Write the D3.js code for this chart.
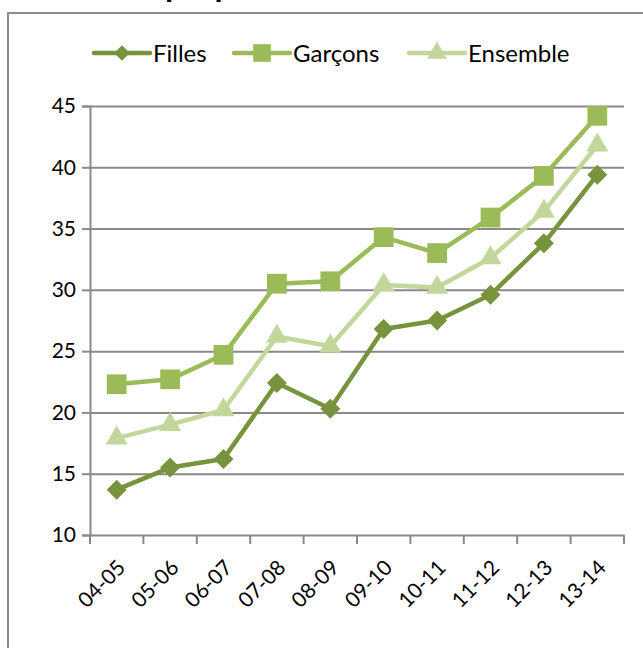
<!DOCTYPE html>
<html><head><meta charset="utf-8">
<script src="https://cdn.jsdelivr.net/npm/d3@7"></script>
<style>
html,body{margin:0;padding:0;background:#fff;overflow:hidden}
text{font-family:Lato,"Open Sans",sans-serif}
</style></head>
<body><svg id="c" width="643" height="648"></svg>
<script>
const categories = ["04-05","05-06","06-07","07-08","08-09","09-10","10-11","11-12","12-13","13-14"];
const filles   = [13.7,15.5,16.2,22.4,20.3,26.8,27.5,29.6,33.8,39.4];
const garcons  = [22.3,22.7,24.7,30.5,30.7,34.3,33.0,35.9,39.3,44.2];
const ensemble = [17.9,19.0,20.2,26.2,25.4,30.4,30.2,32.6,36.4,41.8];
const seriesNames = ["Filles","Garçons","Ensemble"];
const yTicks = [10,15,20,25,30,35,40,45];
const titleText = "Évolution de la proportion";

const colors = {Filles:"#77933C", "Garçons":"#9BBB59", Ensemble:"#C3D69B"};
const markers = {Filles:d3.symbolSquare, "Garçons":d3.symbolSquare, Ensemble:d3.symbolTriangle};
const msize = {Filles:200, "Garçons":390, Ensemble:210};
const lsize = {Filles:120, "Garçons":310, Ensemble:170};
const rot = n => n==="Filles" ? " rotate(45)" : "";
const series = [
  {name:"Filles", values:filles},
  {name:"Garçons", values:garcons},
  {name:"Ensemble", values:ensemble}
];

const svg = d3.select("#c");
const grid = "#898989";

// outer border
svg.append("rect").attr("x",8).attr("y",13).attr("width",700).attr("height",700)
  .attr("fill","none").attr("stroke","#8c8c8c").attr("stroke-width",2);

// clipped title (only descenders visible, as in the reference)
svg.append("text").attr("x",0).attr("y",-3).attr("font-size",33).attr("font-weight","bold")
  .attr("fill","#000").attr("text-anchor","middle").attr("id","ttl").text(titleText);
const t = d3.select("#ttl");
const pIdx = titleText.indexOf("p");
const bb = t.node().getBBox();
const p0 = t.node().getStartPositionOfChar(pIdx).x;
t.attr("x", 165 - p0);

const x = d3.scaleBand().domain(categories).range([90,624]).padding(0);
const y = d3.scaleLinear().domain([10,45]).range([535,106]);
const cx = c => x(c) + x.bandwidth()/2;

// y axis + gridlines
const gAxisY = svg.append("g").attr("transform","translate(90,0)")
  .call(d3.axisLeft(y).tickValues(yTicks).tickSize(8).tickFormat(d3.format("d")).tickPadding(6));
gAxisY.select(".domain").attr("stroke",grid).attr("stroke-width",2);
gAxisY.selectAll(".tick line").attr("stroke",grid).attr("stroke-width",2);
gAxisY.selectAll(".tick text").attr("font-size",21).attr("fill","#000").attr("font-family","Lato,'Open Sans',sans-serif");
gAxisY.selectAll(".tick").filter(d=>d>10).append("line")
  .attr("x1",0).attr("x2",624-90).attr("stroke",grid).attr("stroke-width",2);

// x axis
const gAxisX = svg.append("g").attr("transform","translate(0,535)")
  .call(d3.axisBottom(x).tickSize(0).tickFormat(""));
gAxisX.select(".domain").attr("stroke",grid).attr("stroke-width",2);
const edges = categories.map(c=>x(c)).concat([x(categories[categories.length-1])+x.bandwidth()]);
gAxisX.selectAll("line.edge").data(edges).enter().append("line").attr("class","edge")
  .attr("x1",d=>d).attr("x2",d=>d).attr("y1",0).attr("y2",9).attr("stroke",grid).attr("stroke-width",2);
gAxisX.selectAll("text.lbl").data(categories).enter().append("text").attr("class","lbl")
  .attr("transform",d=>`translate(${cx(d)+10},${34}) rotate(-45)`)
  .attr("text-anchor","end").attr("font-size",21).attr("fill","#000").text(d=>d);

// series lines and markers
const line = d3.line().x((d,i)=>cx(categories[i])).y(d=>y(d));
series.forEach(s=>{
  svg.append("path").datum(s.values).attr("d",line).attr("fill","none")
    .attr("stroke",colors[s.name]).attr("stroke-width",4.5).attr("stroke-linejoin","round");
});
series.forEach(s=>{
  svg.selectAll(null).data(s.values).enter().append("path")
    .attr("d",d3.symbol().type(markers[s.name]).size(msize[s.name]))
    .attr("transform",(d,i)=>`translate(${cx(categories[i])},${y(d)})${rot(s.name)}`)
    .attr("fill",colors[s.name]);
});

// legend
const legX = [94,234,409];
seriesNames.forEach((n,i)=>{
  const g = svg.append("g").attr("transform",`translate(${legX[i]},53)`);
  g.append("line").attr("x1",0).attr("x2",56).attr("stroke",colors[n]).attr("stroke-width",4.5)
    .attr("stroke-linecap","round");
  g.append("path").attr("d",d3.symbol().type(markers[n]).size(lsize[n]))
    .attr("transform",`translate(28,0)${rot(n)}`).attr("fill",colors[n]);
  g.append("text").attr("x",59).attr("y",8.5).attr("font-size",24).attr("fill","#000").text(n);
});
</script></body></html>
